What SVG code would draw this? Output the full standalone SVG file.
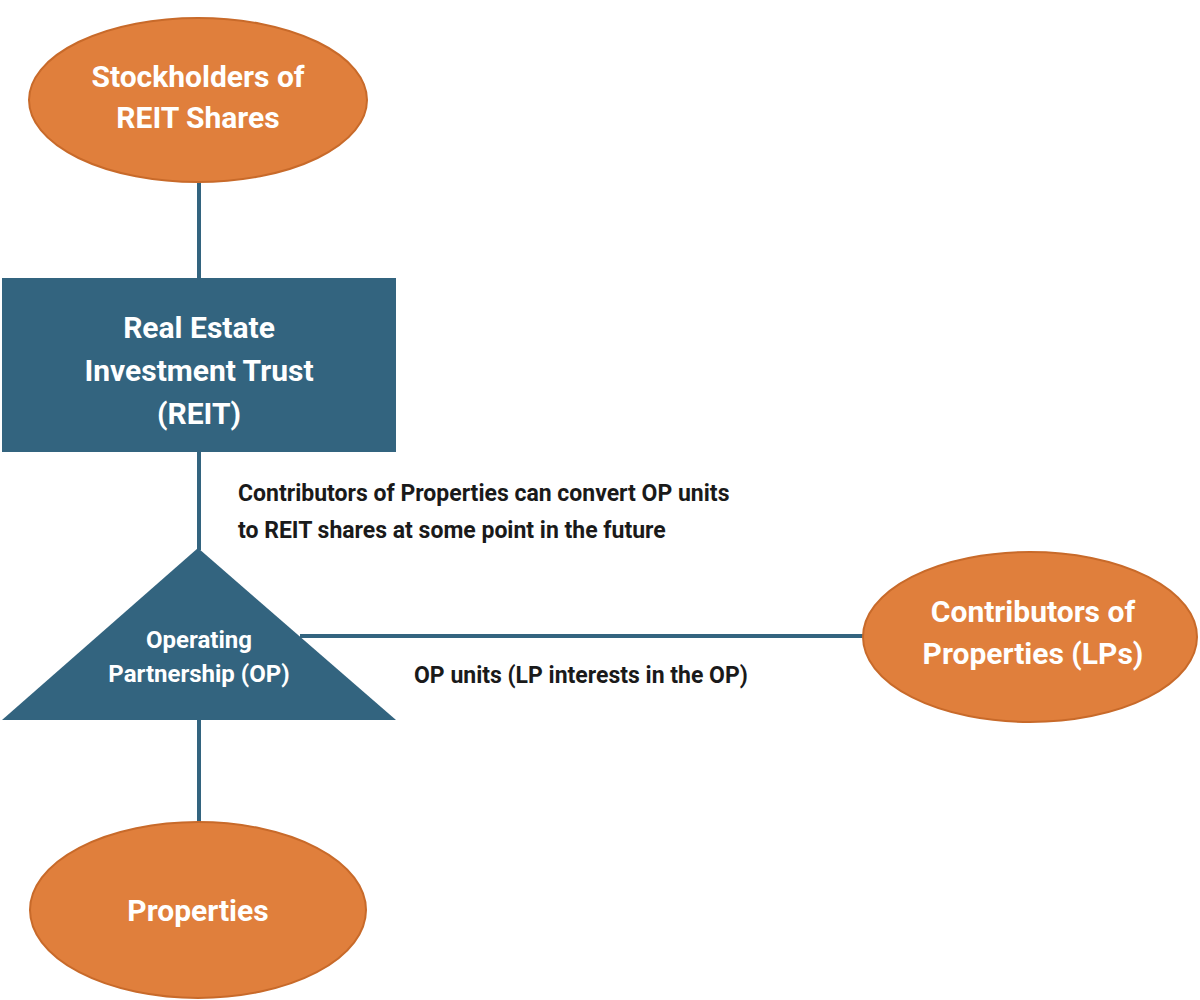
<svg xmlns="http://www.w3.org/2000/svg" width="1200" height="1000" viewBox="0 0 1200 1000">
<style>
.ell{fill:#E07F3C;stroke:#C86A2A;stroke-width:2}
.blue{fill:#33647F}
.line{stroke:#33647F;stroke-width:4;fill:none}
.wt{fill:#fff;font-family:Roboto,"Liberation Sans",sans-serif;font-weight:700;text-anchor:middle}
.bt{fill:#1a1a1a;font-family:Roboto,"Liberation Sans",sans-serif;font-weight:700}
</style>
<rect width="1200" height="1000" fill="#fff"/>
<g id="connectors">
<line class="line" x1="199" y1="180" x2="199" y2="280"/>
<line class="line" x1="199" y1="450" x2="199" y2="550"/>
<line class="line" x1="300" y1="636" x2="864" y2="636"/>
<line class="line" x1="199" y1="718" x2="199" y2="822"/>
</g>
<g id="stockholders">
<ellipse class="ell" cx="198" cy="100" rx="169" ry="82"/>
<text class="wt" font-size="30" x="198" y="87">Stockholders of</text>
<text class="wt" font-size="30" x="198" y="128">REIT Shares</text>
</g>
<g id="reit">
<rect class="blue" x="2" y="278" width="394" height="174"/>
<text class="wt" font-size="30" x="199" y="338">Real Estate</text>
<text class="wt" font-size="30" x="199" y="381">Investment Trust</text>
<text class="wt" font-size="30" x="199" y="424">(REIT)</text>
</g>
<g id="op">
<polygon class="blue" points="198,548 2,720 396,720"/>
<text class="wt" font-size="24" x="199" y="648">Operating</text>
<text class="wt" font-size="24" x="199" y="682">Partnership (OP)</text>
</g>
<g id="contributors">
<ellipse class="ell" cx="1030" cy="637" rx="167" ry="85"/>
<text class="wt" font-size="30" x="1033" y="622">Contributors of</text>
<text class="wt" font-size="30" x="1033" y="664">Properties (LPs)</text>
</g>
<g id="properties">
<ellipse class="ell" cx="198" cy="910" rx="168" ry="88"/>
<text class="wt" font-size="30" x="198" y="921">Properties</text>
</g>
<g id="labels">
<text class="bt" font-size="23" x="238" y="501">Contributors of Properties can convert OP units</text>
<text class="bt" font-size="23" x="238" y="538">to REIT shares at some point in the future</text>
<text class="bt" font-size="23" x="414" y="683">OP units (LP interests in the OP)</text>
</g>
</svg>
